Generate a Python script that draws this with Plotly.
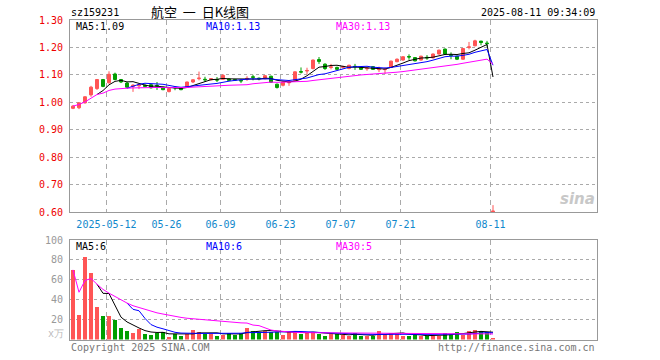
import pandas as pd
import plotly.graph_objects as go

# ---------------- data ----------------
start_date = "2025-04-29"
end_date = "2025-08-11"
holidays = ["2025-05-01", "2025-05-02", "2025-05-05", "2025-06-02"]

opens = [0.978, 0.980, 0.998, 1.027, 1.050, 1.083, 1.071, 1.103, 1.083, 1.070,
         1.058, 1.060, 1.062, 1.064, 1.061, 1.055, 1.039, 1.055, 1.053, 1.055,
         1.074, 1.086, 1.084, 1.082, 1.083, 1.084, 1.085, 1.083, 1.080, 1.084,
         1.093, 1.088, 1.086, 1.095, 1.066, 1.062, 1.071, 1.080, 1.112, 1.114,
         1.123, 1.156, 1.139, 1.127, 1.127, 1.127, 1.123, 1.131, 1.127, 1.122,
         1.130, 1.119, 1.119, 1.127, 1.148, 1.154, 1.167, 1.163, 1.154, 1.164,
         1.162, 1.176, 1.194, 1.173, 1.168, 1.157, 1.200, 1.206, 1.223, 1.216,
         0.600]
closes = [0.986, 0.998, 1.020, 1.055, 1.083, 1.058, 1.102, 1.083, 1.074, 1.055,
          1.062, 1.064, 1.058, 1.053, 1.059, 1.046, 1.050, 1.053, 1.046, 1.074,
          1.082, 1.088, 1.082, 1.086, 1.081, 1.098, 1.080, 1.081, 1.078, 1.087,
          1.091, 1.086, 1.097, 1.073, 1.054, 1.074, 1.073, 1.111, 1.110, 1.116,
          1.154, 1.149, 1.123, 1.129, 1.120, 1.130, 1.135, 1.129, 1.120, 1.124,
          1.120, 1.121, 1.121, 1.150, 1.157, 1.166, 1.165, 1.151, 1.168, 1.162,
          1.176, 1.190, 1.176, 1.171, 1.157, 1.196, 1.202, 1.224, 1.218, 1.214,
          0.603]
highs = [0.990, 1.000, 1.022, 1.060, 1.085, 1.085, 1.113, 1.108, 1.085, 1.074,
         1.066, 1.068, 1.065, 1.066, 1.074, 1.057, 1.052, 1.058, 1.055, 1.075,
         1.084, 1.112, 1.093, 1.088, 1.092, 1.103, 1.087, 1.085, 1.084, 1.095,
         1.100, 1.090, 1.099, 1.097, 1.068, 1.076, 1.080, 1.113, 1.127, 1.126,
         1.156, 1.165, 1.142, 1.140, 1.130, 1.133, 1.137, 1.140, 1.130, 1.130,
         1.132, 1.130, 1.127, 1.152, 1.160, 1.168, 1.175, 1.165, 1.170, 1.172,
         1.178, 1.192, 1.196, 1.182, 1.170, 1.198, 1.220, 1.228, 1.224, 1.224,
         0.625]
lows = [0.975, 0.975, 0.995, 1.020, 1.045, 1.055, 1.068, 1.080, 1.070, 1.050,
        1.038, 1.048, 1.055, 1.050, 1.045, 1.044, 1.036, 1.044, 1.044, 1.053,
        1.070, 1.080, 1.075, 1.080, 1.074, 1.082, 1.078, 1.078, 1.070, 1.078,
        1.080, 1.080, 1.084, 1.071, 1.050, 1.058, 1.060, 1.078, 1.105, 1.102,
        1.120, 1.140, 1.118, 1.120, 1.118, 1.123, 1.120, 1.118, 1.118, 1.115,
        1.118, 1.110, 1.103, 1.125, 1.146, 1.152, 1.155, 1.149, 1.152, 1.155,
        1.160, 1.174, 1.174, 1.157, 1.154, 1.155, 1.193, 1.204, 1.208, 1.203,
        0.600]
volumes = [70, 25, 83, 67, 33, 24, 24, 19.3, 12, 9,
           7, 10.7, 6, 5, 6.7, 7.7, 3, 5.3, 4, 5.7,
           10, 8, 5.7, 5.7, 4, 5, 7, 5, 7, 11.3,
           9, 8, 9, 7.7, 7.7, 5, 7.7, 9, 5.7, 7,
           7.7, 5.7, 4, 5.7, 5.7, 4.7, 3.3, 7, 3.3, 4,
           3.7, 9, 5.7, 7, 7, 4, 3.3, 4.7, 4, 3.3,
           4, 4, 7, 6, 8, 4.7, 9, 10, 9, 7.7,
           1]

tick_dates = ["2025-05-12", "2025-05-26", "2025-06-09", "2025-06-23",
              "2025-07-07", "2025-07-21", "2025-08-11"]
tick_labels = ["2025-05-12", "05-26", "06-09", "06-23", "07-07", "07-21", "08-11"]
price_ticks = [0.60, 0.70, 0.80, 0.90, 1.00, 1.10, 1.20, 1.30]
vol_ticks = [20, 40, 60, 80, 100]

code = "sz159231"
title = "航空\u00a0\u00a0一\u00a0\u00a0日K线图"
stamp = "2025-08-11 09:34:09"
ma_price_text = ["MA5:1.09", "MA10:1.13", "MA30:1.13"]
ma_vol_text = ["MA5:6", "MA10:6", "MA30:5"]

# ---------------- build ----------------
dates = [d.strftime("%Y-%m-%d") for d in pd.bdate_range(start_date, end_date)
         if d.strftime("%Y-%m-%d") not in holidays]
idx = list(range(len(dates)))
df = pd.DataFrame({"o": opens, "h": highs, "l": lows, "c": closes, "v": volumes}, index=idx)

ma5 = df["c"].rolling(5).mean()
ma10 = df["c"].rolling(10).mean()
ma30 = df["c"].rolling(30, min_periods=1).mean()
vma5 = df["v"].rolling(5).mean()
vma10 = df["v"].rolling(10).mean()
vma30 = df["v"].rolling(30, min_periods=1).mean()

RED = "#ff5555"
GREEN = "#009f00"
vcolors = [RED if c >= o else GREEN for o, c in zip(opens, closes)]

W, H = 660, 360
L, R = 70, 597
def px(x):
    return x / W
def py(y):
    return 1 - y / H

MONO = "DejaVu Sans Mono"
tick_pos = [dates.index(d) - 0.42 for d in tick_dates]

fig = go.Figure()
fig.add_trace(go.Candlestick(
    x=idx, open=opens, high=highs, low=lows, close=closes,
    increasing=dict(line=dict(color=RED, width=1), fillcolor=RED),
    decreasing=dict(line=dict(color=GREEN, width=1), fillcolor=GREEN),
    whiskerwidth=0, xaxis="x", yaxis="y", showlegend=False, hoverinfo="skip"))
for s, col in [(ma5, "black"), (ma10, "#0000ff"), (ma30, "#ff00ff")]:
    fig.add_trace(go.Scatter(x=idx, y=s, mode="lines", line=dict(color=col, width=1),
                             xaxis="x", yaxis="y", showlegend=False, hoverinfo="skip"))
fig.add_trace(go.Bar(x=idx, y=volumes, marker=dict(color=vcolors, line=dict(width=0)),
                     width=0.72, xaxis="x2", yaxis="y2", showlegend=False, hoverinfo="skip"))
for s, col in [(vma5, "black"), (vma10, "#0000ff"), (vma30, "#ff00ff")]:
    fig.add_trace(go.Scatter(x=idx, y=s, mode="lines", line=dict(color=col, width=1),
                             xaxis="x2", yaxis="y2", showlegend=False, hoverinfo="skip"))

xr = [-0.5, -0.5 + (R - L) / 6.0]
axis_common = dict(showline=True, linecolor="#999999", linewidth=1, mirror=True, zeroline=False)
fig.update_layout(
    width=W, height=H, autosize=False, margin=dict(l=0, r=0, t=0, b=0, pad=0),
    paper_bgcolor="white", plot_bgcolor="white",
    font=dict(family=MONO, size=10),
    xaxis=dict(domain=[px(L), px(R)], range=xr, tickvals=tick_pos, ticktext=tick_labels,
               tickfont=dict(family=MONO, size=10, color="#1188cc"),
               showgrid=True, gridcolor="#aaaaaa", griddash="5px,4px", gridwidth=1,
               rangeslider=dict(visible=False), anchor="y", ticks="", ticklabelstandoff=3,
               automargin=False, **axis_common),
    yaxis=dict(domain=[py(212), py(20)], range=[0.60, 1.30], tickvals=price_ticks,
               tickformat=".2f", tickfont=dict(family=MONO, size=10, color="#ee0000"),
               showgrid=True, gridcolor="#aaaaaa", griddash="dot", gridwidth=1,
               anchor="x", ticks="", ticklabelstandoff=4, automargin=False, **axis_common),
    xaxis2=dict(domain=[px(L), px(R)], range=xr, tickvals=tick_pos, showticklabels=False,
                showgrid=True, gridcolor="#aaaaaa", griddash="5px,4px", gridwidth=1,
                anchor="y2", ticks="", automargin=False, **axis_common),
    yaxis2=dict(domain=[py(339.5), py(240)], range=[0, 100], tickvals=vol_ticks,
                tickfont=dict(family=MONO, size=10, color="#999999"),
                showgrid=True, gridcolor="#aaaaaa", griddash="dot", gridwidth=1,
                anchor="x2", ticks="", ticklabelstandoff=4, automargin=False, **axis_common),
    bargap=0,
)

def ann(text, x, y, color="black", size=10, family=MONO, xanchor="left", yanchor="middle", **kw):
    fig.add_annotation(text=text, x=px(x), y=py(y), xref="paper", yref="paper",
                       showarrow=False, xanchor=xanchor, yanchor=yanchor,
                       font=dict(color=color, size=size, family=family), **kw)

ann(code, 69, 13)
ann(title, 200, 12, size=13, family="Noto Sans CJK SC", xanchor="center")
ann(stamp, 597, 13, xanchor="right")
ma_cols = ["black", "#0000ff", "#ff00ff"]
for t, xx, col in zip(ma_price_text, [74, 204, 334], ma_cols):
    ann(t, xx, 27, color=col)
for t, xx, col in zip(ma_vol_text, [74, 204, 334], ma_cols):
    ann(t, xx, 246, color=col)
ann("x万", 66, 333, color="#bbbbbb", xanchor="right")
ann("Copyright 2025 SINA.COM", 69, 347, color="#777777")
ann("http://finance.sina.com.cn", 597, 347, color="#777777", xanchor="right")
ann("<b><i>sina</i></b>", 597, 199, color="#c8c8c8", size=15, family="DejaVu Sans", xanchor="right")

fig.write_html("out.html", config={"displayModeBar": False},
               post_script="document.body.style.margin='0px';document.body.style.overflow='hidden';")
